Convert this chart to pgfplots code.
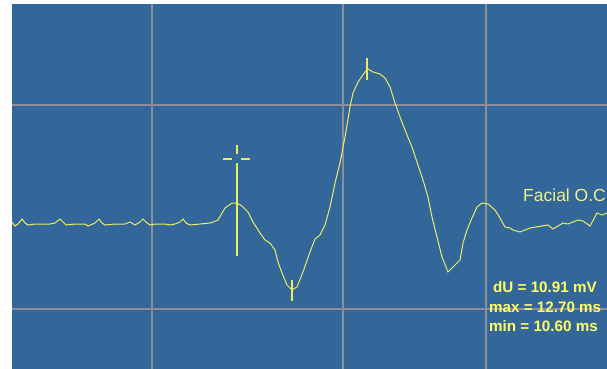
\documentclass[border=0pt]{standalone}
\usepackage{fontspec}
\setmainfont{Liberation Sans}
\usepackage{pgfplots}
\pgfplotsset{compat=1.18}
\definecolor{panelblue}{RGB}{51,102,153}
\definecolor{gridgray}{RGB}{140,142,155}
\definecolor{trace}{RGB}{236,236,100}
\definecolor{txtyel}{RGB}{255,255,100}
\definecolor{lbl}{RGB}{240,240,140}
\begin{document}
\begin{tikzpicture}
\useasboundingbox (0,0) rectangle (607pt,369pt);
\begin{axis}[
  at={(12pt,0pt)}, anchor=south west,
  scale only axis, width=595pt, height=365pt,
  xmin=12, xmax=607, ymin=4, ymax=369, y dir=reverse,
  axis background/.style={fill=panelblue},
  axis line style={draw=none},
  xtick={152,343,486}, ytick={105,309},
  xticklabels={}, yticklabels={},
  major tick length=0pt,
  grid=major,
  major grid style={draw=gridgray, line width=1.2pt},
  clip=true,
]
\addplot[trace, line width=1pt] coordinates {
(12,222) (15,226) (18,224) (22,219) (25,223) (28,225) (35,224) (50,224)
(55,223) (60,219) (63,222) (66,225) (75,224) (85,224) (88,226) (95,223)
(99,219) (102,223) (105,225) (115,224) (125,224) (130,222) (135,225)
(140,222) (143,219) (146,222) (150,225) (155,224) (165,224) (170,225)
(175,224) (180,222) (183,219) (186,223) (190,225) (200,224) (210,223)
(213,222) (218,220) (225,208) (232,203) (237,203) (242,206) (248,212)
(253,222) (260,233) (265,240) (270,243) (275,250) (278,262) (282,273)
(287,285) (292,290) (297,287) (303,272) (310,252) (315,239) (320,235)
(325,225) (330,207) (335,183) (340,163) (345,137) (350,107) (353,93)
(358,82) (365,72) (368,69) (373,72) (380,74) (385,78) (390,87) (395,103)
(400,117) (407,135) (412,147) (417,162) (423,180) (428,197) (432,217)
(437,237) (442,257) (448,272) (453,267) (460,260) (463,243) (467,230)
(472,218) (477,207) (482,203) (488,204) (495,210) (500,218) (505,227)
(510,228) (513,230) (520,232) (530,228) (542,226) (548,225) (553,229)
(563,223) (568,224) (578,220) (583,221) (590,226) (597,213) (602,215)
(607,213)
};
% cursor at onset
\addplot[trace, line width=1.3pt] coordinates {(237,145) (237,154)};
\addplot[trace, line width=1.3pt] coordinates {(237,163) (237,256)};
\addplot[trace, line width=1.3pt] coordinates {(223,159) (232,159)};
\addplot[trace, line width=1.3pt] coordinates {(241,159) (250,159)};
% min / max markers
\addplot[trace, line width=2.5pt] coordinates {(292,280) (292,301)};
\addplot[trace, line width=2.5pt] coordinates {(367,58) (367,80)};
\node[anchor=west, inner sep=0pt, text=lbl, font=\fontsize{17.5}{19}\selectfont] at (axis cs:523,195) {Facial O.C};
\node[anchor=west, inner sep=0pt, text=txtyel, font=\bfseries\fontsize{15.2}{17}\selectfont] at (axis cs:493,287) {dU = 10.91 mV};
\node[anchor=west, inner sep=0pt, text=txtyel, font=\bfseries\fontsize{15.2}{17}\selectfont] at (axis cs:489,307) {max = 12.70 ms};
\node[anchor=west, inner sep=0pt, text=txtyel, font=\bfseries\fontsize{15.2}{17}\selectfont] at (axis cs:489,326) {min = 10.60 ms};
\end{axis}
\end{tikzpicture}
\end{document}
